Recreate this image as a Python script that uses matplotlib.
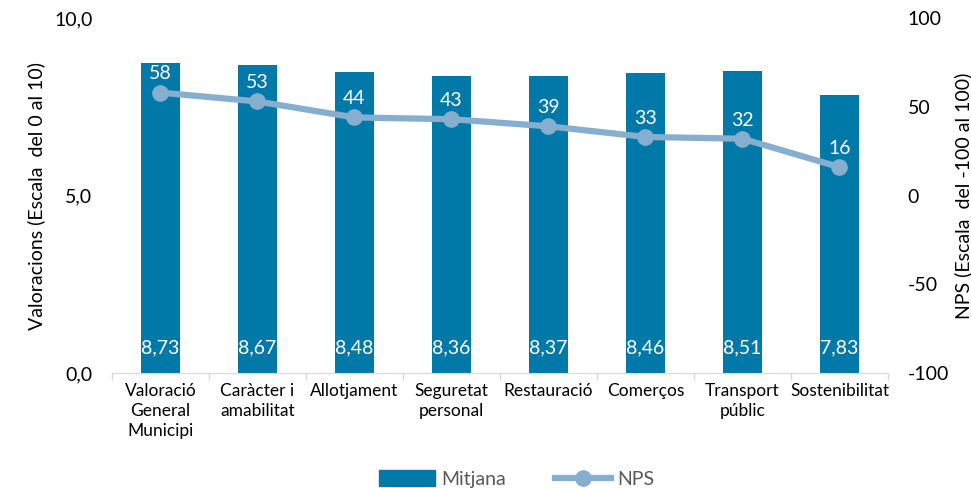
import matplotlib
matplotlib.use("Agg")
import matplotlib.pyplot as plt
import numpy as np
from matplotlib.lines import Line2D
from matplotlib.patches import Patch

categories = ["Valoració\nGeneral\nMunicipi", "Caràcter i\namabilitat", "Allotjament",
              "Seguretat\npersonal", "Restauració", "Comerços", "Transport\npúblic",
              "Sostenibilitat"]
mitjana = [8.73, 8.67, 8.48, 8.36, 8.37, 8.46, 8.51, 7.83]
nps = [58, 53, 44, 43, 39, 33, 32, 16]
left_ticks = [0, 5, 10]
left_ticklabels = ["0,0", "5,0", "10,0"]
right_ticks = [-100, -50, 0, 50, 100]

bar_color = "#0079A8"
line_color = "#86AECF"
plt.rcParams["font.family"] = ["Lato", "DejaVu Sans"]

fig = plt.figure(figsize=(9.71, 4.88), dpi=100)
ax = fig.add_axes([0.1153, 0.2357, 0.7992, 0.7273])
x = np.arange(len(categories))

# bars: average rating on the left axis
ax.bar(x, mitjana, width=0.41, color=bar_color, zorder=2)
ax.set_xlim(-0.5, len(categories) - 0.5)
ax.set_ylim(0, 10)
ax.set_yticks(left_ticks)
ax.set_yticklabels(left_ticklabels, fontsize=14)
ax.tick_params(axis="y", length=0, pad=14)
ax.set_xticks(x)
ax.set_xticklabels(categories, fontsize=12.5, linespacing=1.3)
ax.tick_params(axis="x", length=0, pad=7)
ax.set_xticks(np.arange(len(categories) + 1) - 0.5, minor=True)
ax.tick_params(axis="x", which="minor", length=5, color="#D9D9D9", width=1)
for s in ["top", "left", "right"]:
    ax.spines[s].set_visible(False)
ax.spines["bottom"].set_color("#D9D9D9")
ax.set_ylabel("Valoracions (Escala  del 0 al 10)", fontsize=14)
ax.yaxis.set_label_coords(-0.086, 0.5)

for xi, v in zip(x, mitjana):
    ax.text(xi, 0.7, f"{v:.2f}".replace(".", ","), color="white", fontsize=14,
            ha="center", va="center", zorder=4)

# line: NPS on the right axis
ax2 = ax.twinx()
ax2.plot(x, nps, color=line_color, lw=4.5, marker="o", ms=11, zorder=3)
ax2.set_ylim(-100, 100)
ax2.set_yticks(right_ticks)
ax2.set_yticklabels([str(t) for t in right_ticks], fontsize=14)
ax2.tick_params(axis="y", length=0, pad=14)
for s in ["top", "left", "right", "bottom"]:
    ax2.spines[s].set_visible(False)
ax2.set_ylabel("NPS (Escala  del -100 al 100)", fontsize=14)
ax2.yaxis.set_label_coords(1.086, 0.5)

for xi, v in zip(x, nps):
    ax2.text(xi, v + 10.5, str(v), color="white", fontsize=14,
             ha="center", va="center", zorder=4)

handles = [Patch(color=bar_color),
           Line2D([0], [0], color=line_color, lw=4.5, marker="o", ms=11)]
fig.legend(handles, ["Mitjana", "NPS"], loc="center", bbox_to_anchor=(0.532, 0.018),
           ncol=2, frameon=False, fontsize=14, handlelength=2.9, handleheight=0.9,
           columnspacing=2.5, handletextpad=0.3, labelcolor="#595959")

fig.savefig("out.png", dpi=100)
